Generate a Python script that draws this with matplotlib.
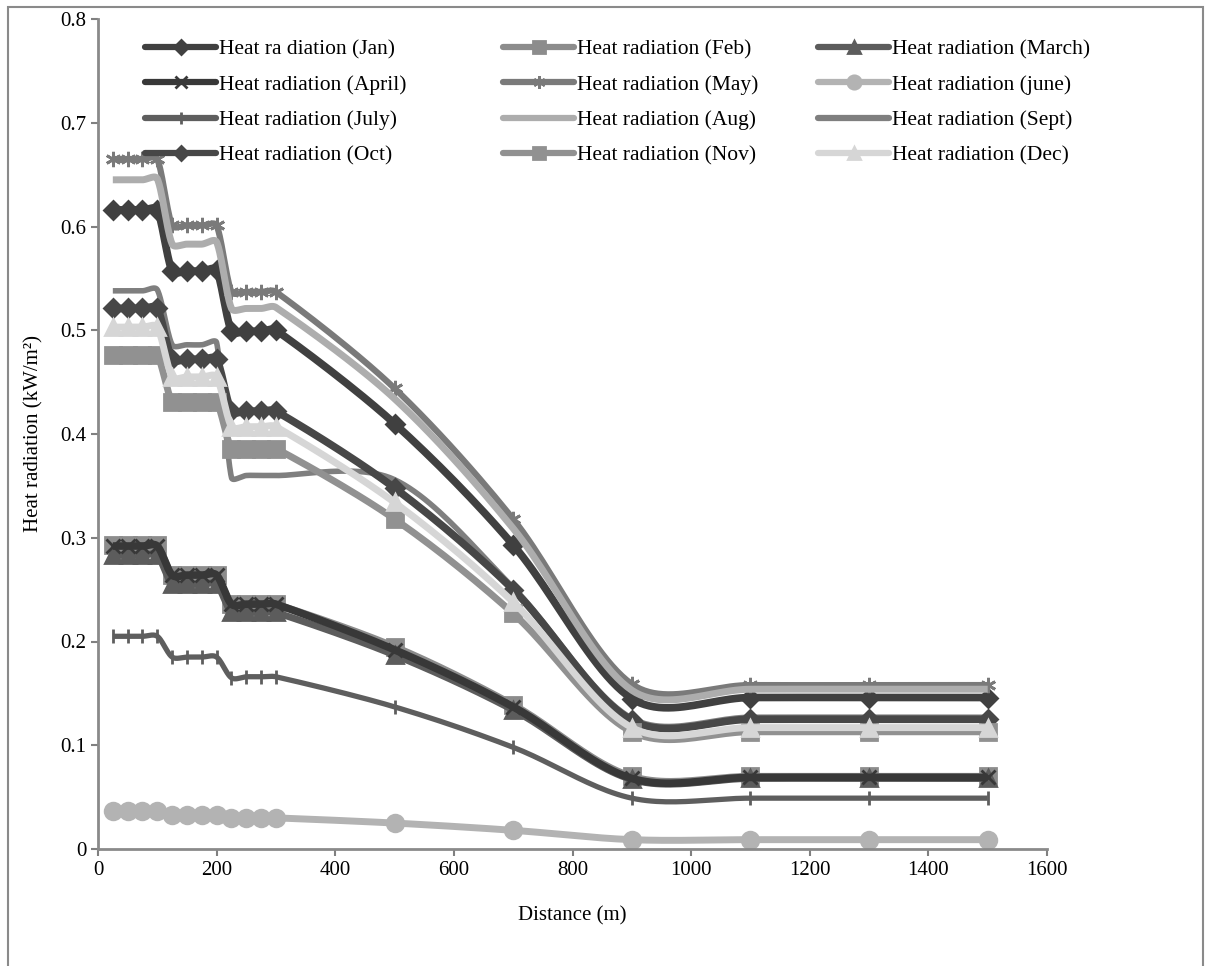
import numpy as np
import matplotlib.pyplot as plt
from matplotlib.lines import Line2D
from matplotlib.patches import Rectangle

plt.rcParams['font.family'] = ['Liberation Serif', 'DejaVu Serif']

distance = [25, 50, 75, 100, 125, 150, 175, 200, 225, 250, 275, 300, 500, 700, 900, 1100, 1300, 1500]

jan = [0.616, 0.616, 0.616, 0.616, 0.557, 0.557, 0.557, 0.558, 0.499, 0.499, 0.499, 0.500, 0.410, 0.293, 0.145, 0.146, 0.146, 0.146]
feb = [0.293, 0.293, 0.293, 0.293, 0.264, 0.264, 0.264, 0.264, 0.236, 0.236, 0.236, 0.236, 0.195, 0.139, 0.070, 0.070, 0.070, 0.070]
mar = [0.283, 0.283, 0.283, 0.283, 0.255, 0.255, 0.255, 0.255, 0.228, 0.228, 0.228, 0.228, 0.187, 0.134, 0.067, 0.068, 0.068, 0.068]
apr = [0.292, 0.292, 0.292, 0.292, 0.264, 0.264, 0.264, 0.264, 0.236, 0.236, 0.236, 0.236, 0.192, 0.137, 0.068, 0.069, 0.069, 0.069]
may = [0.665, 0.665, 0.665, 0.665, 0.601, 0.601, 0.601, 0.601, 0.537, 0.537, 0.537, 0.537, 0.444, 0.318, 0.159, 0.158, 0.158, 0.158]
jun = [0.037, 0.037, 0.037, 0.037, 0.033, 0.033, 0.033, 0.033, 0.030, 0.030, 0.030, 0.030, 0.025, 0.018, 0.009, 0.009, 0.009, 0.009]
jul = [0.205, 0.205, 0.205, 0.205, 0.185, 0.185, 0.185, 0.185, 0.165, 0.166, 0.166, 0.166, 0.137, 0.098, 0.049, 0.049, 0.049, 0.049]
aug = [0.645, 0.645, 0.645, 0.646, 0.583, 0.583, 0.583, 0.585, 0.521, 0.521, 0.521, 0.522, 0.434, 0.309, 0.153, 0.154, 0.154, 0.154]
sep = [0.538, 0.538, 0.538, 0.539, 0.486, 0.486, 0.486, 0.488, 0.358, 0.360, 0.360, 0.360, 0.356, 0.252, 0.126, 0.127, 0.127, 0.127]
octo = [0.521, 0.521, 0.521, 0.521, 0.472, 0.472, 0.472, 0.472, 0.422, 0.422, 0.422, 0.422, 0.348, 0.250, 0.124, 0.125, 0.125, 0.125]
nov = [0.476, 0.476, 0.476, 0.476, 0.431, 0.431, 0.431, 0.431, 0.386, 0.386, 0.386, 0.386, 0.318, 0.227, 0.113, 0.113, 0.113, 0.113]
dec = [0.503, 0.503, 0.503, 0.503, 0.455, 0.455, 0.455, 0.455, 0.407, 0.407, 0.407, 0.407, 0.334, 0.238, 0.117, 0.117, 0.117, 0.117]

labels = ['Heat ra diation (Jan)', 'Heat radiation (Feb)', 'Heat radiation (March)',
          'Heat radiation (April)', 'Heat radiation (May)', 'Heat radiation (june)',
          'Heat radiation (July)', 'Heat radiation (Aug)', 'Heat radiation (Sept)',
          'Heat radiation (Oct)', 'Heat radiation (Nov)', 'Heat radiation (Dec)']
series = [jan, feb, mar, apr, may, jun, jul, aug, sep, octo, nov, dec]

colors = ['#404040', '#8c8c8c', '#5c5c5c', '#383838', '#7a7a7a', '#b3b3b3',
          '#5e5e5e', '#adadad', '#7f7f7f', '#474747', '#919191', '#d6d6d6']
markers = ['D', 's', '^', 'x', (6, 2, 0), 'o', '|', None, None, 'D', 's', '^']
msizes = [9, 11, 11, 10, 11, 12, 10, 0, 0, 9, 11, 11]
widths = [5.5, 5, 5, 5.5, 4.5, 5, 3.8, 5, 4, 5.5, 5, 5]

xticks = [0, 200, 400, 600, 800, 1000, 1200, 1400, 1600]
yticks = [0, 0.1, 0.2, 0.3, 0.4, 0.5, 0.6, 0.7, 0.8]
ytick_labels = ['0', '0.1', '0.2', '0.3', '0.4', '0.5', '0.6', '0.7', '0.8']

# rough pixel scale of the plot, used only to shape the smoothing
sx_px, sy_px = 949 / 1600, 830 / 0.8


def smooth(xs, ys, n=24):
    # excel-like smoothed line: bezier segments, control arms capped by segment length
    p = np.column_stack([np.array(xs) * sx_px, np.array(ys) * sy_px]).astype(float)
    q = np.vstack([p[0], p, p[-1]])
    t = np.linspace(0, 1, n, endpoint=False)[:, None]
    out = []
    for i in range(1, len(q) - 2):
        p0, p1, p2, p3 = q[i - 1], q[i], q[i + 1], q[i + 2]
        seg = np.hypot(*(p2 - p1))
        a1 = (p2 - p0) / 6
        a2 = (p3 - p1) / 6
        lim = seg / 3
        for a in (a1, a2):
            ln = np.hypot(*a)
            if ln > lim and ln > 0:
                a *= lim / ln
        c1 = p1 + a1
        c2 = p2 - a2
        out.append((1 - t)**3 * p1 + 3 * (1 - t)**2 * t * c1 + 3 * (1 - t) * t**2 * c2 + t**3 * p2)
    out.append(p[-1:])
    out = np.vstack(out)
    return out[:, 0] / sx_px, out[:, 1] / sy_px


fig = plt.figure(figsize=(12.07, 9.66), dpi=100)
ax = fig.add_axes([98 / 1207, 1 - 849 / 966, (1047 - 98) / 1207, (849 - 19) / 966])

handles = []
for ys, lab, c, m, ms, lw in zip(series, labels, colors, markers, msizes, widths):
    cx, cy = smooth(distance, ys)
    ax.plot(cx, cy, color=c, lw=lw, solid_capstyle='butt', solid_joinstyle='round')
    if m is not None:
        ax.plot(distance, ys, ls='none', marker=m, ms=ms, color=c, mec=c, mew=2)
    handles.append(Line2D([], [], color=c, lw=4.5, marker=m, ms=ms * 0.8, mec=c, mew=2,
                          solid_capstyle='round', label=lab))

ax.set_xlim(0, 1600)
ax.set_ylim(0, 0.8)
ax.set_xticks(xticks)
ax.set_yticks(yticks)
ax.set_yticklabels(ytick_labels)
ax.tick_params(axis='both', labelsize=15, colors='#808080', labelcolor='black',
               length=5, width=1.5, direction='out')
for s in ['top', 'right']:
    ax.spines[s].set_visible(False)
for s in ['left', 'bottom']:
    ax.spines[s].set_color('#8a8a8a')
    ax.spines[s].set_linewidth(2)

ax.set_xlabel('Distance (m)', fontsize=15, labelpad=19)
ax.set_ylabel('Heat radiation (kW/m²)', fontsize=15, labelpad=12)

col_x = [145, 503, 818]
for k in range(3):
    hs = [handles[k], handles[k + 3], handles[k + 6], handles[k + 9]]
    leg = fig.legend(handles=hs, loc='upper left',
                     bbox_to_anchor=(col_x[k] / 1207, 1 - 39 / 966),
                     frameon=False, fontsize=15.5, handlelength=3.3,
                     handletextpad=0.15, labelspacing=0.72, borderpad=0,
                     borderaxespad=0, numpoints=1)

fig.add_artist(Rectangle((8 / 1207, -0.1), (1203 - 8) / 1207, 1.1 - 7 / 966,
                         transform=fig.transFigure, fill=False,
                         edgecolor='#8a8a8a', lw=1.5, clip_on=False))

fig.savefig('out.png', dpi=100)
